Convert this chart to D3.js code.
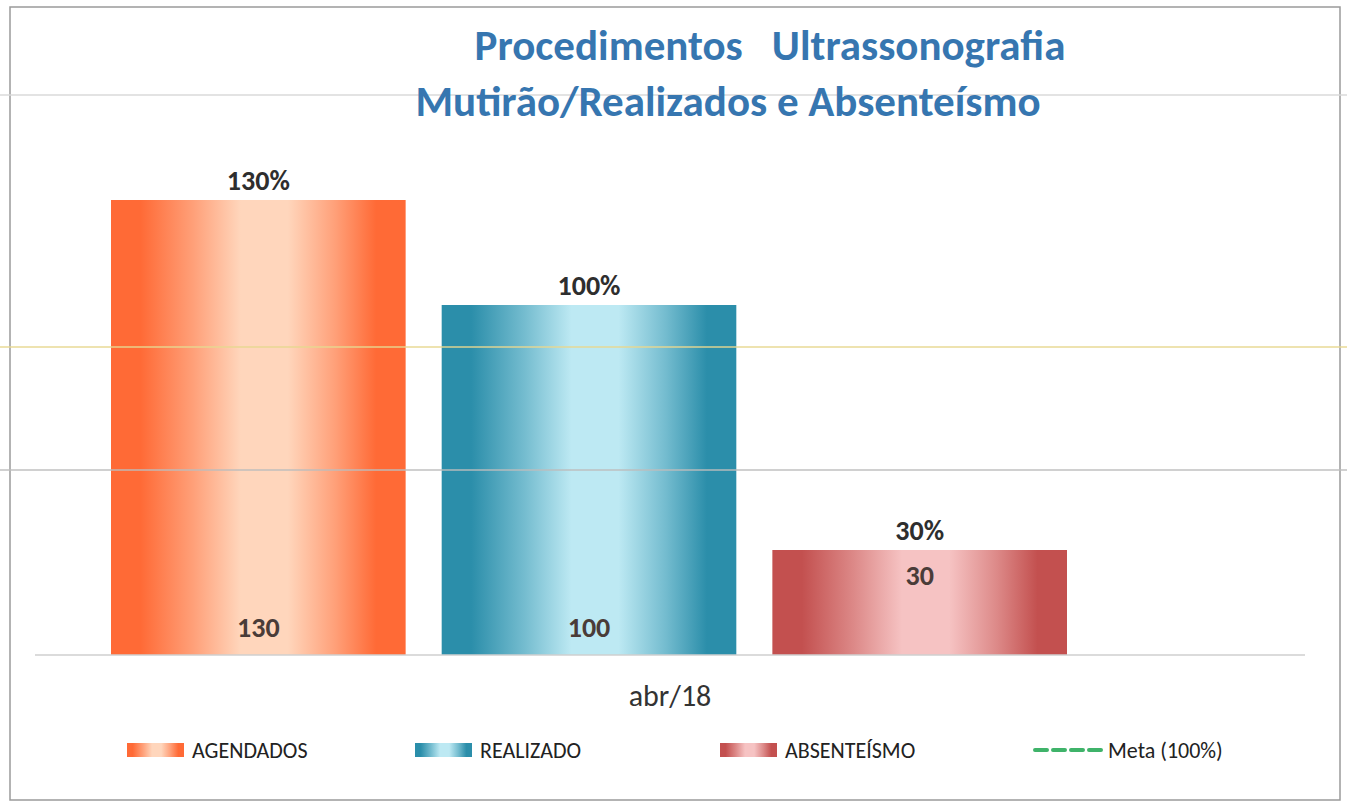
<!DOCTYPE html>
<html>
<head>
<meta charset="utf-8">
<script src="https://cdn.jsdelivr.net/npm/d3@7"></script>
<style>
  body { margin: 0; background: #fff; }
  svg { display: block; }
  text { font-family: Carlito, Calibri, Lato, "Open Sans", sans-serif; }
</style>
</head>
<body>
<svg width="1347" height="803"></svg>
<script>
var width = 1347, height = 803;

// data
var categories = ["abr/18"];
var series = ["AGENDADOS", "REALIZADO", "ABSENTEÍSMO"];
var values = [130, 100, 30];
var percentLabels = ["130%", "100%", "30%"];
var metaLabel = "Meta (100%)";

var colors = {
  "AGENDADOS":   { dark: "#ff6a36", light: "#ffd6bc" },
  "REALIZADO":   { dark: "#2b8eaa", light: "#bde9f3" },
  "ABSENTEÍSMO": { dark: "#c3504f", light: "#f6c3c3" }
};

var svg = d3.select("svg");
var margin = { top: 200, right: 42, bottom: 148, left: 35 };
var plotW = width - margin.left - margin.right;   // 1270
var plotH = height - margin.top - margin.bottom;  // 455

// gradients for the "cylinder" look
var defs = svg.append("defs");
series.forEach(function(s, i) {
  var g = defs.append("linearGradient")
    .attr("id", "grad" + i)
    .attr("x1", "0%").attr("x2", "100%").attr("y1", "0%").attr("y2", "0%");
  var c = colors[s];
  var mid = d3.interpolateRgb(c.dark, c.light)(0.5);
  [[0, c.dark], [0.1, c.dark], [0.28, mid], [0.44, c.light], [0.6, c.light], [0.76, mid], [0.9, c.dark], [1, c.dark]]
    .forEach(function(st) {
      g.append("stop").attr("offset", st[0]).attr("stop-color", st[1]);
    });
});

// outer frame
svg.append("rect")
  .attr("x", 10).attr("y", 7)
  .attr("width", 1330).attr("height", 793)
  .attr("fill", "none").attr("stroke", "#9a9a9a").attr("stroke-width", 1.5);

var x0 = d3.scaleBand().domain(categories).range([0, plotW]);
var x1 = d3.scaleBand().domain(series).range([76, 1032]).paddingInner(0.109);
var y = d3.scaleLinear().domain([0, 130]).range([plotH, 0]);

var g = svg.append("g")
  .attr("transform", "translate(" + margin.left + "," + margin.top + ")");

g.selectAll(".bar")
  .data(series)
  .enter().append("rect")
    .attr("class", "bar")
    .attr("x", function(d) { return x1(d); })
    .attr("y", function(d, i) { return y(values[i]); })
    .attr("width", x1.bandwidth())
    .attr("height", function(d, i) { return plotH - y(values[i]); })
    .attr("fill", function(d, i) { return "url(#grad" + i + ")"; });

// faint scan lines across the page
var scanLines = [
  { y: 95, color: "#d8d8d8" },
  { y: 347, color: "#e8d890" },
  { y: 470, color: "#bdbdbd" }
];
svg.selectAll(".scan")
  .data(scanLines)
  .enter().append("line")
    .attr("x1", 0).attr("x2", width)
    .attr("y1", function(d) { return d.y; })
    .attr("y2", function(d) { return d.y; })
    .attr("stroke", function(d) { return d.color; })
    .attr("stroke-width", 2)
    .attr("opacity", 0.7);

// baseline
g.append("line")
  .attr("x1", 0).attr("x2", plotW)
  .attr("y1", plotH).attr("y2", plotH)
  .attr("stroke", "#cfcfcf").attr("stroke-width", 1.5);

// category label
g.append("g")
  .attr("transform", "translate(0," + plotH + ")")
  .call(d3.axisBottom(x0).tickSize(0).tickPadding(30))
  .call(function(a) { a.select(".domain").remove(); })
  .selectAll("text")
    .attr("font-size", 30)
    .attr("fill", "#333")
    .style("font-family", "Carlito, Calibri, Lato, sans-serif");

// percent labels above bars
g.selectAll(".pct")
  .data(series)
  .enter().append("text")
    .attr("class", "pct")
    .attr("x", function(d) { return x1(d) + x1.bandwidth() / 2; })
    .attr("y", function(d, i) { return y(values[i]) - 10; })
    .attr("text-anchor", "middle")
    .attr("font-size", 28).attr("font-weight", "bold")
    .attr("fill", "#2e2e2e")
    .text(function(d, i) { return percentLabels[i]; });

// value labels inside bars
g.selectAll(".val")
  .data(series)
  .enter().append("text")
    .attr("class", "val")
    .attr("x", function(d) { return x1(d) + x1.bandwidth() / 2; })
    .attr("y", function(d, i) {
      var h = plotH - y(values[i]);
      return h < 150 ? y(values[i]) + 35 : plotH - 18;
    })
    .attr("text-anchor", "middle")
    .attr("font-size", 28).attr("font-weight", "bold")
    .attr("fill", "#4a3c38")
    .text(function(d, i) { return values[i]; });

// title
var title = svg.append("text")
  .attr("text-anchor", "middle")
  .attr("font-size", 43).attr("font-weight", "bold")
  .attr("fill", "#3676b0");
title.append("tspan").attr("x", 770).attr("y", 60)
  .attr("xml:space", "preserve")
  .text("Procedimentos   Ultrassonografia");
title.append("tspan").attr("x", 728).attr("y", 116)
  .text("Mutirão/Realizados e Absenteísmo");

// legend
var legendX = [127, 415, 720];
var leg = svg.selectAll(".leg")
  .data(series)
  .enter().append("g")
    .attr("class", "leg")
    .attr("transform", function(d, i) { return "translate(" + legendX[i] + ",743)"; });
leg.append("rect")
  .attr("width", 57).attr("height", 14)
  .attr("fill", function(d, i) { return "url(#grad" + i + ")"; });
leg.append("text")
  .attr("x", 65).attr("y", 15)
  .attr("font-size", 22)
  .attr("fill", "#222")
  .text(function(d) { return d; });

var meta = svg.append("g").attr("transform", "translate(1035,743)");
meta.append("line")
  .attr("x1", 0).attr("x2", 68).attr("y1", 7).attr("y2", 7)
  .attr("stroke", "#3fb36a").attr("stroke-width", 4)
  .attr("stroke-dasharray", "12,6").attr("stroke-linecap", "round");
meta.append("text")
  .attr("x", 73).attr("y", 15)
  .attr("font-size", 22)
  .attr("fill", "#222")
  .text(metaLabel);
</script>
</body>
</html>
